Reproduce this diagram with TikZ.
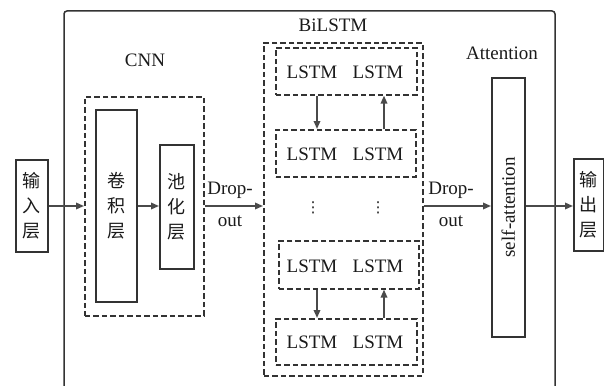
\documentclass[tikz,border=0pt]{standalone}
\usepackage{fontspec}
\setmainfont{Liberation Serif}
\newfontfamily\cjk{Noto Sans CJK SC}
\newfontfamily\djv{DejaVu Sans}
\usetikzlibrary{arrows.meta}
\definecolor{ln}{HTML}{333333}
\definecolor{ar}{HTML}{4A4A4A}
\definecolor{tx}{HTML}{1A1A1A}
\tikzset{
  solidbox/.style={draw=ln, line width=1.6pt, anchor=north west, inner sep=0pt, text=tx},
  dashbox/.style={draw=ln, line width=1.6pt, dash pattern=on 5.5pt off 3pt, anchor=north west, inner sep=0pt},
  arr/.style={draw=ar, line width=1.7pt, -{Triangle[length=8pt,width=6.5pt]}},
  lbl/.style={text=tx, font=\fontsize{19}{22}\selectfont, inner sep=0pt},
  cn/.style={text=tx, font=\fontsize{18}{25}\selectfont\cjk, align=center},
  dotsty/.style={text=tx, font=\fontsize{15}{16}\selectfont\djv, inner sep=0pt},
}
\begin{document}
\begin{tikzpicture}[x=1pt,y=-1pt]
\useasboundingbox (0,0) rectangle (604,385);
% outer frame (open at bottom)
\draw[ln, line width=1.5pt, rounded corners=3pt] (64,386) -- (64,11) -- (555,11) -- (555,386);
% input
\node[solidbox, minimum width=32pt, minimum height=92pt, cn] (in) at (15,159) {输\\入\\层};
% CNN
\node[dashbox, minimum width=119pt, minimum height=219pt] (cnn) at (84,96) {};
\node[lbl] (cnnl) at (145,60) {CNN};
\node[solidbox, minimum width=41pt, minimum height=192pt, cn] (conv) at (95,109) {卷\\积\\层};
\node[solidbox, minimum width=34pt, minimum height=124pt, cn] (pool) at (159,144) {池\\化\\层};
% BiLSTM
\node[dashbox, minimum width=159pt, minimum height=333pt] (bil) at (263,42) {};
\node[lbl] (bill) at (333,25) {BiLSTM};
\node[dashbox, minimum width=141pt, minimum height=47pt] (r1) at (275,47) {};
\node[dashbox, minimum width=140pt, minimum height=47pt] (r2) at (275,129) {};
\node[dashbox, minimum width=140pt, minimum height=48pt] (r3) at (278,240) {};
\node[dashbox, minimum width=141pt, minimum height=46pt] (r4) at (275,318) {};
\foreach \r/\y in {1/72,2/154,3/266,4/342}{
  \node[lbl] (r\r a) at (312,\y) {LSTM};
  \node[lbl] (r\r b) at (378,\y) {LSTM};
}
\node[dotsty] (d1) at (313,208) {⋮};
\node[dotsty] (d2) at (378,208) {⋮};
\coordinate (xd) at (317,0);
\coordinate (xu) at (384,0);
\draw[arr] (r1.south -| xd) -- (r2.north -| xd);
\draw[arr] (r2.north -| xu) -- (r1.south -| xu);
\draw[arr] (r3.south -| xd) -- (r4.north -| xd);
\draw[arr] (r4.north -| xu) -- (r3.south -| xu);
% Attention
\node[solidbox, minimum width=33pt, minimum height=259pt] (att) at (491,77) {};
\node[lbl, rotate=90] (attt) at (att.center) {self-attention};
\node[lbl] (attl) at (502,53) {Attention};
% output
\node[solidbox, minimum width=30pt, minimum height=92pt, cn] (out) at (573,158) {输\\出\\层};
% dropout labels
\node[lbl] (do1) at (230,190) {Drop-};
\node[lbl] (do1b) at (230,221) {out};
\node[lbl] (do2) at (451,190) {Drop-};
\node[lbl] (do2b) at (451,221) {out};
% main arrows
\coordinate (ya) at (0,206);
\draw[arr] (in.east |- ya) -- (cnn.west |- ya);
\draw[arr] (conv.east |- ya) -- (pool.west |- ya);
\draw[arr] (cnn.east |- ya) -- (bil.west |- ya);
\draw[arr] (bil.east |- ya) -- (att.west |- ya);
\draw[arr] (att.east |- ya) -- (out.west |- ya);
\end{tikzpicture}
\end{document}
